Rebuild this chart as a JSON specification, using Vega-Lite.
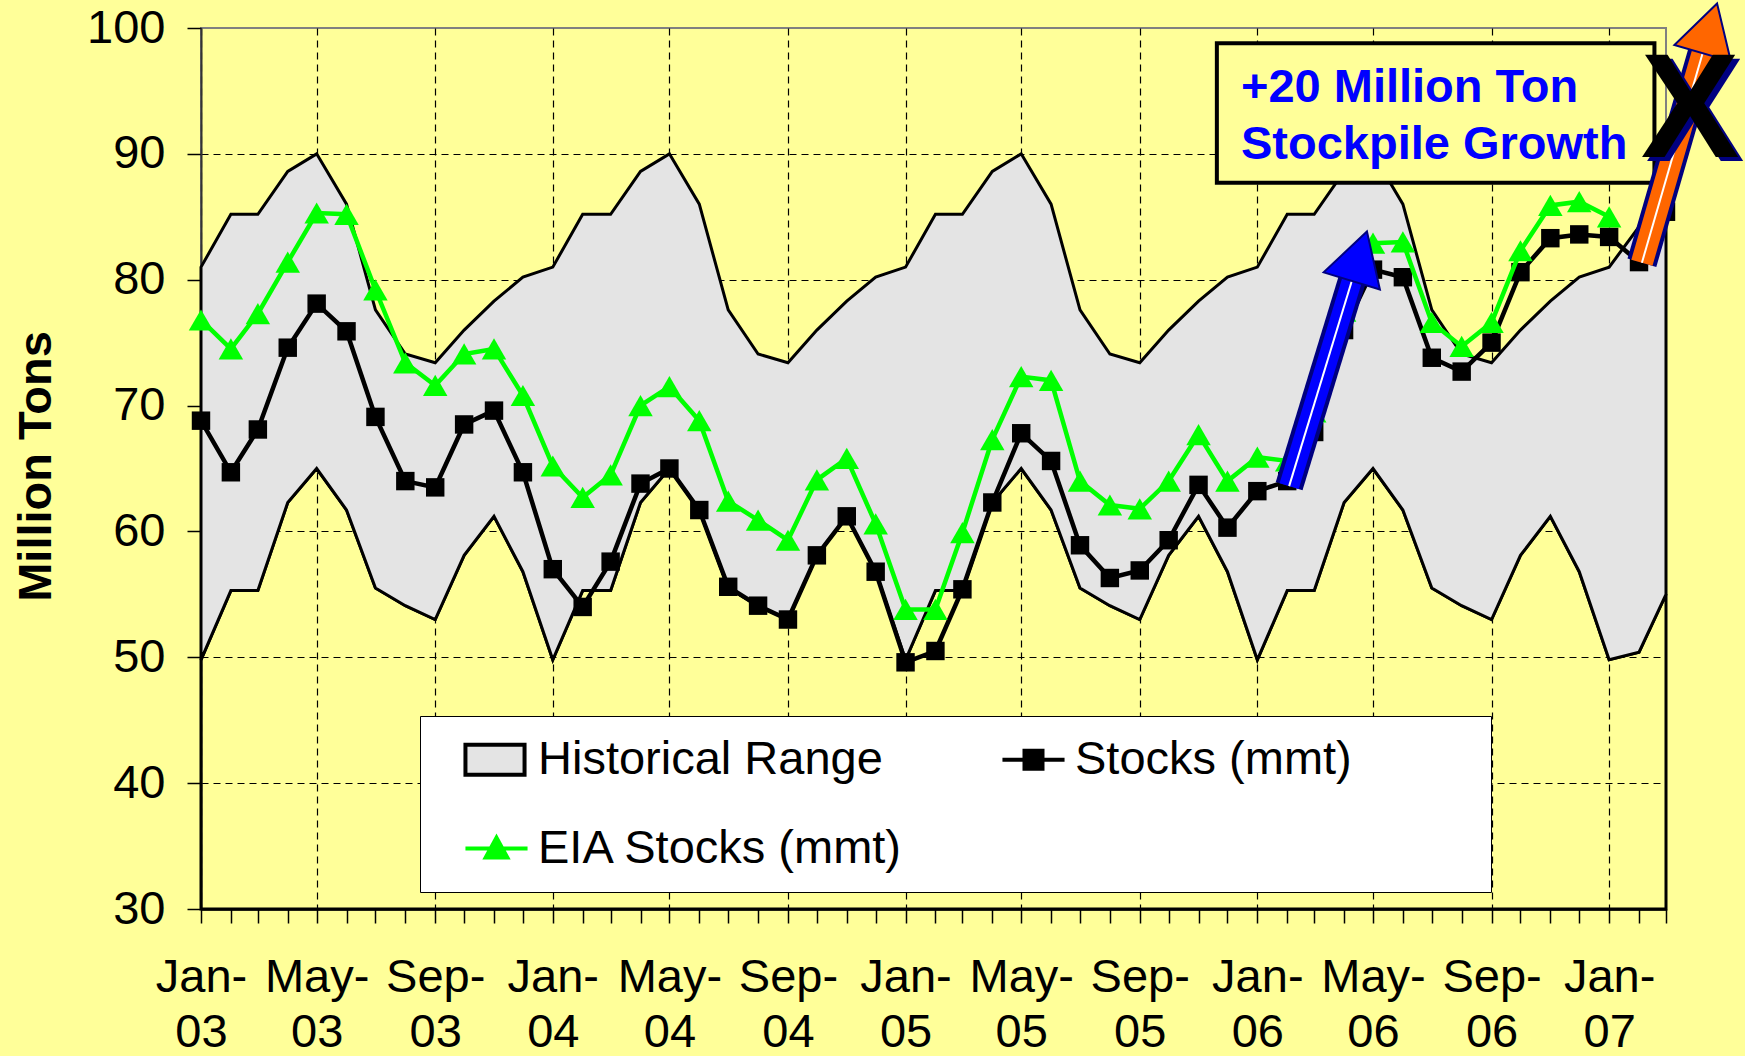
{
  "$schema": "https://vega.github.io/schema/vega-lite/v6.json",
  "width": 1465,
  "height": 881,
  "autosize": {"type": "none"},
  "padding": {"left": 201, "top": 28, "right": 79, "bottom": 147},
  "background": "#FFFF99",
  "config": {
    "view": {"stroke": "#808080", "strokeWidth": 2, "fill": "#FFFF99"},
    "font": "Liberation Sans, Arial, sans-serif",
    "axis": {"labelFont": "Liberation Sans, Arial, sans-serif", "titleFont": "Liberation Sans, Arial, sans-serif", "labelColor": "#000000", "titleColor": "#000000", "tickColor": "#000000", "domainColor": "#000000"}
  },
  "datasets": {
    "stock": [
      {"month": "2003-01-01", "stocks": 68.8, "eia": 76.8, "lo": 49.8, "hi": 81.0},
      {"month": "2003-02-01", "stocks": 64.7, "eia": 74.5, "lo": 55.3, "hi": 85.2},
      {"month": "2003-03-01", "stocks": 68.1, "eia": 77.3, "lo": 55.3, "hi": 85.2},
      {"month": "2003-04-01", "stocks": 74.6, "eia": 81.4, "lo": 62.3, "hi": 88.6},
      {"month": "2003-05-01", "stocks": 78.1, "eia": 85.3, "lo": 65.0, "hi": 90.0},
      {"month": "2003-06-01", "stocks": 75.9, "eia": 85.2, "lo": 61.7, "hi": 86.0},
      {"month": "2003-07-01", "stocks": 69.1, "eia": 79.2, "lo": 55.5, "hi": 77.6},
      {"month": "2003-08-01", "stocks": 64.0, "eia": 73.4, "lo": 54.1, "hi": 74.1},
      {"month": "2003-09-01", "stocks": 63.5, "eia": 71.6, "lo": 53.0, "hi": 73.4},
      {"month": "2003-10-01", "stocks": 68.5, "eia": 74.1, "lo": 58.1, "hi": 76.0},
      {"month": "2003-11-01", "stocks": 69.6, "eia": 74.5, "lo": 61.2, "hi": 78.3},
      {"month": "2003-12-01", "stocks": 64.7, "eia": 70.8, "lo": 56.8, "hi": 80.2},
      {"month": "2004-01-01", "stocks": 57.0, "eia": 65.2, "lo": 49.8, "hi": 81.0},
      {"month": "2004-02-01", "stocks": 54.0, "eia": 62.7, "lo": 55.3, "hi": 85.2},
      {"month": "2004-03-01", "stocks": 57.6, "eia": 64.5, "lo": 55.3, "hi": 85.2},
      {"month": "2004-04-01", "stocks": 63.8, "eia": 70.0, "lo": 62.3, "hi": 88.6},
      {"month": "2004-05-01", "stocks": 65.0, "eia": 71.5, "lo": 65.0, "hi": 90.0},
      {"month": "2004-06-01", "stocks": 61.7, "eia": 68.8, "lo": 61.7, "hi": 86.0},
      {"month": "2004-07-01", "stocks": 55.6, "eia": 62.4, "lo": 55.5, "hi": 77.6},
      {"month": "2004-08-01", "stocks": 54.1, "eia": 60.9, "lo": 54.1, "hi": 74.1},
      {"month": "2004-09-01", "stocks": 53.0, "eia": 59.3, "lo": 53.0, "hi": 73.4},
      {"month": "2004-10-01", "stocks": 58.1, "eia": 64.1, "lo": 58.1, "hi": 76.0},
      {"month": "2004-11-01", "stocks": 61.2, "eia": 65.8, "lo": 61.2, "hi": 78.3},
      {"month": "2004-12-01", "stocks": 56.8, "eia": 60.6, "lo": 56.8, "hi": 80.2},
      {"month": "2005-01-01", "stocks": 49.6, "eia": 53.8, "lo": 49.8, "hi": 81.0},
      {"month": "2005-02-01", "stocks": 50.5, "eia": 53.8, "lo": 55.3, "hi": 85.2},
      {"month": "2005-03-01", "stocks": 55.4, "eia": 59.9, "lo": 55.3, "hi": 85.2},
      {"month": "2005-04-01", "stocks": 62.3, "eia": 67.3, "lo": 62.3, "hi": 88.6},
      {"month": "2005-05-01", "stocks": 67.8, "eia": 72.3, "lo": 65.0, "hi": 90.0},
      {"month": "2005-06-01", "stocks": 65.6, "eia": 72.0, "lo": 61.7, "hi": 86.0},
      {"month": "2005-07-01", "stocks": 58.9, "eia": 64.0, "lo": 55.5, "hi": 77.6},
      {"month": "2005-08-01", "stocks": 56.3, "eia": 62.1, "lo": 54.1, "hi": 74.1},
      {"month": "2005-09-01", "stocks": 56.9, "eia": 61.8, "lo": 53.0, "hi": 73.4},
      {"month": "2005-10-01", "stocks": 59.3, "eia": 64.0, "lo": 58.1, "hi": 76.0},
      {"month": "2005-11-01", "stocks": 63.7, "eia": 67.7, "lo": 61.2, "hi": 78.3},
      {"month": "2005-12-01", "stocks": 60.3, "eia": 64.0, "lo": 56.8, "hi": 80.2},
      {"month": "2006-01-01", "stocks": 63.2, "eia": 65.9, "lo": 49.8, "hi": 81.0},
      {"month": "2006-02-01", "stocks": 64.0, "eia": 65.6, "lo": 55.3, "hi": 85.2},
      {"month": "2006-03-01", "stocks": 67.9, "eia": 69.5, "lo": 55.3, "hi": 85.2},
      {"month": "2006-04-01", "stocks": 76.0, "eia": 77.5, "lo": 62.3, "hi": 88.6},
      {"month": "2006-05-01", "stocks": 80.8, "eia": 82.9, "lo": 65.0, "hi": 90.0},
      {"month": "2006-06-01", "stocks": 80.2, "eia": 83.0, "lo": 61.7, "hi": 86.0},
      {"month": "2006-07-01", "stocks": 73.8, "eia": 76.6, "lo": 55.5, "hi": 77.6},
      {"month": "2006-08-01", "stocks": 72.7, "eia": 74.7, "lo": 54.1, "hi": 74.1},
      {"month": "2006-09-01", "stocks": 75.0, "eia": 76.6, "lo": 53.0, "hi": 73.4},
      {"month": "2006-10-01", "stocks": 80.6, "eia": 82.3, "lo": 58.1, "hi": 76.0},
      {"month": "2006-11-01", "stocks": 83.3, "eia": 85.9, "lo": 61.2, "hi": 78.3},
      {"month": "2006-12-01", "stocks": 83.6, "eia": 86.2, "lo": 56.8, "hi": 80.2},
      {"month": "2007-01-01", "stocks": 83.4, "eia": 85.0, "lo": 49.8, "hi": 81.0},
      {"month": "2007-02-01", "stocks": 81.4, "eia": null, "lo": 50.4, "hi": 84.2},
      {"month": "2007-03-01", "stocks": 85.4, "eia": null, "lo": 55.0, "hi": 84.2}
    ],
    "legend": [
      {"series": "Historical Range"},
      {"series": "Stocks (mmt)"},
      {"series": "EIA Stocks (mmt)"}
    ]
  },
  "layer": [
    {
      "data": {"name": "stock"},
      "mark": {"type": "area", "fill": "#FFFF99", "fillOpacity": 0, "stroke": "#000000", "strokeWidth": 3},
      "encoding": {
        "x": {
          "field": "month", "type": "temporal", "title": null,
          "scale": {"type": "utc", "domain": [{"year": 2003, "month": 1, "date": 1, "utc": true}, {"year": 2007, "month": 3, "date": 1, "utc": true}]},
          "axis": {
            "title": null,
            "tickCount": {"interval": "month", "step": 1},
            "labelExpr": "utcmonth(datum.value) % 4 === 0 ? [utcFormat(datum.value, '%b-'), utcFormat(datum.value, '%y')] : ''",
            "labelFontSize": 47, "labelLineHeight": 55, "labelPadding": 31,
            "labelOverlap": false, "labelFlush": false, "labelBound": false,
            "tickSize": 14, "tickWidth": 1.5,
            "domainWidth": 2.5,
            "grid": true, "gridColor": "#000000", "gridDash": [7, 5], "gridWidth": 1.2,
            "gridOpacity": {"condition": {"test": "utcmonth(datum.value) % 4 === 0", "value": 1}, "value": 0}
          }
        },
        "y": {
          "field": "lo", "type": "quantitative",
          "scale": {"domain": [30, 100], "nice": false, "zero": false},
          "axis": {
            "values": [30, 40, 50, 60, 70, 80, 90, 100],
            "title": "Million Tons", "titleFontSize": 47, "titleFontWeight": "bold",
            "titleAngle": 270, "titleX": -151, "titleY": 438, "titleBaseline": "alphabetic", "titleAlign": "center",
            "labelFontSize": 47, "labelPadding": 22,
            "tickSize": 14, "tickWidth": 1.5, "domainWidth": 2, "domainColor": "#333333",
            "grid": true, "gridColor": "#000000", "gridDash": [7, 5], "gridWidth": 1.2,
            "gridOpacity": {"condition": {"test": "datum.value > 30 && datum.value < 100", "value": 1}, "value": 0}
          }
        },
        "y2": {"datum": 30}
      }
    },
    {
      "data": {"name": "stock"},
      "mark": {"type": "area", "fill": "#E4E4E4", "fillOpacity": 1, "stroke": "#000000", "strokeWidth": 3},
      "encoding": {
        "x": {"field": "month", "type": "temporal"},
        "y": {"field": "hi", "type": "quantitative"},
        "y2": {"field": "lo"}
      }
    },
    {
      "data": {"name": "stock"},
      "mark": {"type": "line", "color": "#000000", "strokeWidth": 4.5, "point": {"shape": "square", "size": 340, "filled": true, "color": "#000000", "opacity": 1}},
      "encoding": {
        "x": {"field": "month", "type": "temporal"},
        "y": {"field": "stocks", "type": "quantitative"}
      }
    },
    {
      "data": {"name": "stock"},
      "mark": {"type": "line", "color": "#00FF00", "strokeWidth": 4.5, "point": {"shape": "triangle-up", "size": 600, "filled": true, "color": "#00FF00", "opacity": 1}},
      "encoding": {
        "x": {"field": "month", "type": "temporal"},
        "y": {"field": "eia", "type": "quantitative"}
      }
    },
    {
      "data": {"name": "legend"},
      "mark": {"type": "point", "filled": true, "opacity": 1, "strokeWidth": 4.5},
      "encoding": {
        "y": {"field": "v", "type": "quantitative"},
        "fill": {
          "field": "series", "type": "nominal",
          "scale": {"domain": ["Historical Range", "Stocks (mmt)", "EIA Stocks (mmt)"], "range": ["#E4E4E4", "#000000", "#00FF00"]},
          "legend": {
            "orient": "none", "legendX": 219, "legendY": 688,
            "direction": "horizontal",
            "columns": 2, "columnPadding": 73, "rowPadding": 41,
            "padding": 20, "fillColor": "#FFFFFF", "strokeColor": "#000000",
            "title": "\u00a0", "titleOrient": "right", "titleFontSize": 2, "titlePadding": 119,
            "labelFont": "Liberation Sans, Arial, sans-serif", "labelFontSize": 47, "labelColor": "#000000", "labelOffset": 51, "labelLimit": 1000,
            "symbolSize": 900, "symbolStrokeWidth": 4
          }
        },
        "stroke": {
          "field": "series", "type": "nominal",
          "scale": {"domain": ["Historical Range", "Stocks (mmt)", "EIA Stocks (mmt)"], "range": ["#000000", "#000000", "#00FF00"]}
        },
        "shape": {
          "field": "series", "type": "nominal",
          "scale": {"domain": ["Historical Range", "Stocks (mmt)", "EIA Stocks (mmt)"], "range": ["M0.13,-1H4.07V1H0.13Z", "M0.13,0H4.27M1.6,-0.6H2.8V0.6H1.6Z", "M0.13,0H4.27M2.2,-0.72L2.92,0.6H1.48Z"]}
        }
      }
    },
    {
      "data": {"values": [{"start": "2006-02-03", "startValue": 63.6, "end": "2006-04-09", "endValue": 79.9}]},
      "layer": [
        {"mark": {"type": "rule", "color": "#000080", "strokeWidth": 28}},
        {"mark": {"type": "rule", "color": "#0000FF", "strokeWidth": 20}},
        {"mark": {"type": "rule", "color": "#FFFFFF", "strokeWidth": 2}},
        {"mark": {"type": "point", "shape": "M0,-1.85L1.05,0L-1.05,0Z", "size": 3136, "angle": 17, "filled": true, "fill": "#0000FF", "stroke": "#000080", "strokeWidth": 2, "opacity": 1},
         "encoding": {"x": {"field": "end", "type": "temporal"}, "y": {"field": "endValue", "type": "quantitative"}}}
      ],
      "encoding": {
        "x": {"field": "start", "type": "temporal"},
        "y": {"field": "startValue", "type": "quantitative"},
        "x2": {"field": "end"},
        "y2": {"field": "endValue"}
      }
    },
    {
      "data": {"values": [{"start": "2005-11-20", "end": "2007-02-17", "top": 98.78, "bottom": 87.71}]},
      "mark": {"type": "rect", "fill": "#FFFF99", "stroke": "#000000", "strokeWidth": 4},
      "encoding": {
        "x": {"field": "start", "type": "temporal"},
        "x2": {"field": "end"},
        "y": {"field": "top", "type": "quantitative"},
        "y2": {"field": "bottom"}
      }
    },
    {
      "data": {"values": [
        {"date": "2005-12-15", "value": 94.12, "text": "+20 Million Ton"},
        {"date": "2005-12-15", "value": 89.6, "text": "Stockpile Growth"}
      ]},
      "mark": {"type": "text", "align": "left", "baseline": "alphabetic", "font": "Liberation Sans, Arial, sans-serif", "fontSize": 47, "fontWeight": "bold", "color": "#0000FF"},
      "encoding": {
        "x": {"field": "date", "type": "temporal"},
        "y": {"field": "value", "type": "quantitative"},
        "text": {"field": "text"}
      }
    },
    {
      "data": {"values": [{"start": "2007-02-04", "startValue": 81.35, "end": "2007-04-08", "endValue": 98.0}]},
      "layer": [
        {"mark": {"type": "rule", "color": "#000080", "strokeWidth": 30}},
        {"mark": {"type": "rule", "color": "#FF6600", "strokeWidth": 22}},
        {"mark": {"type": "rule", "color": "#FFFFFF", "strokeWidth": 2}},
        {"mark": {"type": "point", "shape": "M0,-1.85L1.05,0L-1.05,0Z", "size": 3136, "angle": 16.2, "filled": true, "fill": "#FF6600", "stroke": "#000080", "strokeWidth": 2, "opacity": 1},
         "encoding": {"x": {"field": "end", "type": "temporal"}, "y": {"field": "endValue", "type": "quantitative"}}}
      ],
      "encoding": {
        "x": {"field": "start", "type": "temporal"},
        "y": {"field": "startValue", "type": "quantitative"},
        "x2": {"field": "end"},
        "y2": {"field": "endValue"}
      }
    },
    {
      "data": {"values": [{"date": "2007-03-26", "value": 89.75, "text": "X"}]},
      "layer": [
        {"mark": {"type": "text", "align": "center", "baseline": "alphabetic", "font": "Liberation Sans, Arial, sans-serif", "fontSize": 148, "fontWeight": "bold", "color": "#000080", "dx": 5, "dy": 4}},
        {"mark": {"type": "text", "align": "center", "baseline": "alphabetic", "font": "Liberation Sans, Arial, sans-serif", "fontSize": 148, "fontWeight": "bold", "color": "#000000"}}
      ],
      "encoding": {
        "x": {"field": "date", "type": "temporal"},
        "y": {"field": "value", "type": "quantitative"},
        "text": {"field": "text"}
      }
    }
  ]
}
